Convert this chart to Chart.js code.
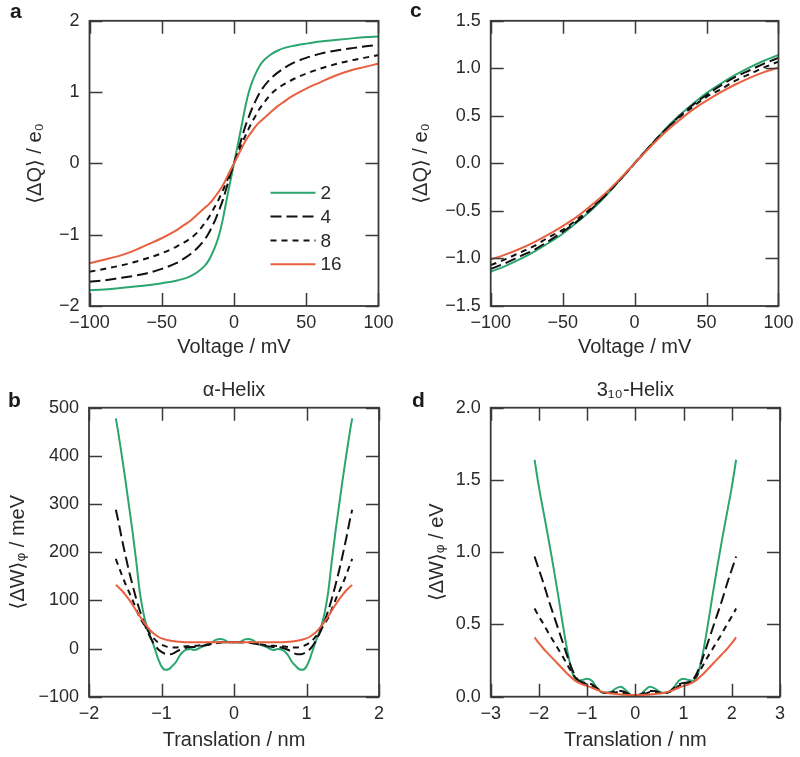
<!DOCTYPE html>
<html>
<head>
<meta charset="utf-8">
<title>Gating charge and translation energy</title>
<script src="https://cdn.jsdelivr.net/npm/chart.js@4.4.1/dist/chart.umd.min.js"></script>
<style>
  html, body { margin: 0; padding: 0; background: #fff; }
  #figure { position: relative; width: 800px; height: 757px; }
  #figure canvas { position: absolute; }
</style>
</head>
<body>
<div id="figure">
  <canvas id="panelA" width="400" height="370" style="left:0;top:0"></canvas>
  <canvas id="panelC" width="400" height="370" style="left:400px;top:0"></canvas>
  <canvas id="panelB" width="400" height="387" style="left:0;top:370px"></canvas>
  <canvas id="panelD" width="400" height="387" style="left:400px;top:370px"></canvas>
</div>
<script>
// ---- data ----
const seriesLabels = ['2', '4', '8', '16'];

// a: <dQ> vs voltage
const voltageA = [-100, -90, -80, -70, -60, -50, -40, -35, -30, -25, -20, -17.5, -15, -12.5, -10, -7.5, -5, -2.5, 0,
                  2.5, 5, 7.5, 10, 12.5, 15, 17.5, 20, 25, 30, 35, 40, 50, 60, 70, 80, 90, 100];
const chargeA2 = [-1.78, -1.77, -1.75, -1.73, -1.71, -1.68, -1.645, -1.62, -1.58, -1.52, -1.43, -1.36, -1.26, -1.14, -0.98, -0.76, -0.50, -0.25, 0,
                  0.25, 0.50, 0.76, 0.98, 1.14, 1.26, 1.36, 1.43, 1.52, 1.58, 1.62, 1.645, 1.68, 1.71, 1.73, 1.75, 1.77, 1.78];
const chargeA4 = [-1.66, -1.64, -1.61, -1.58, -1.54, -1.48, -1.40, -1.34, -1.27, -1.18, -1.06, -0.98, -0.88, -0.77, -0.64, -0.50, -0.33, -0.16, 0,
                  0.16, 0.33, 0.50, 0.64, 0.77, 0.88, 0.98, 1.06, 1.18, 1.27, 1.34, 1.40, 1.48, 1.54, 1.58, 1.61, 1.64, 1.66];
const chargeA8 = [-1.52, -1.48, -1.44, -1.39, -1.33, -1.26, -1.17, -1.115, -1.05, -0.96, -0.83, -0.76, -0.67, -0.58, -0.48, -0.37, -0.25, -0.12, 0,
                  0.12, 0.25, 0.37, 0.48, 0.58, 0.67, 0.76, 0.83, 0.96, 1.05, 1.115, 1.17, 1.26, 1.33, 1.39, 1.44, 1.48, 1.52];
const chargeA16 = [-1.40, -1.35, -1.30, -1.23, -1.14, -1.05, -0.94, -0.87, -0.80, -0.71, -0.62, -0.575, -0.52, -0.45, -0.38, -0.30, -0.20, -0.10, 0,
                   0.10, 0.20, 0.30, 0.38, 0.45, 0.52, 0.575, 0.62, 0.71, 0.80, 0.87, 0.94, 1.05, 1.14, 1.23, 1.30, 1.35, 1.40];

// c: <dQ> vs voltage
const voltageC = [-100, -90, -80, -70, -60, -50, -40, -30, -20, -10, 0, 10, 20, 30, 40, 50, 60, 70, 80, 90, 100];
const chargeC2 = [-1.14, -1.08, -1.01, -0.93, -0.84, -0.74, -0.62, -0.49, -0.34, -0.17, 0,
                  0.17, 0.34, 0.49, 0.62, 0.74, 0.84, 0.93, 1.01, 1.08, 1.14];
const chargeC4 = [-1.11, -1.05, -0.98, -0.91, -0.82, -0.72, -0.61, -0.48, -0.33, -0.17, 0,
                  0.17, 0.33, 0.48, 0.61, 0.72, 0.82, 0.91, 0.98, 1.05, 1.11];
const chargeC8 = [-1.07, -1.01, -0.94, -0.87, -0.78, -0.70, -0.59, -0.47, -0.33, -0.17, 0,
                  0.17, 0.33, 0.47, 0.59, 0.70, 0.78, 0.87, 0.94, 1.01, 1.07];
const chargeC16 = [-1.01, -0.96, -0.90, -0.83, -0.75, -0.66, -0.56, -0.44, -0.31, -0.16, 0,
                   0.16, 0.31, 0.44, 0.56, 0.66, 0.75, 0.83, 0.90, 0.96, 1.01];

// b: alpha-helix, <dW> (meV) vs translation (nm)
const transB = [-1.63, -1.6, -1.55, -1.5, -1.45, -1.4, -1.35, -1.3, -1.25, -1.2, -1.15, -1.1, -1.05, -1,
                -0.95, -0.9, -0.85, -0.8, -0.75, -0.7, -0.65, -0.6, -0.55, -0.5, -0.45, -0.4, -0.35, -0.3,
                -0.25, -0.2, -0.15, -0.1, -0.05, 0,
                0.05, 0.1, 0.15, 0.2, 0.25, 0.3, 0.35, 0.4, 0.45, 0.5, 0.55, 0.6, 0.65, 0.7, 0.75, 0.8,
                0.85, 0.9, 0.95, 1, 1.05, 1.1, 1.15, 1.2, 1.25, 1.3, 1.35, 1.4, 1.45, 1.5, 1.55, 1.6, 1.63];
const energyB2 = [478, 452, 403, 352, 298, 243, 183, 118, 74, 44, 24, 3, -20, -37,
                  -44, -43, -36, -28, -15, -6, -2, -1, -3, -1, 3, 6, 8, 13,
                  18, 20, 19, 15, 13, 13,
                  13, 15, 19, 20, 18, 13, 8, 6, 3, -1, -3, -1, -2, -6, -15, -28,
                  -36, -43, -44, -37, -20, 3, 24, 44, 74, 118, 183, 243, 298, 352, 403, 452, 478];
const energyB4 = [288, 268, 230, 195, 162, 132, 104, 79, 57, 38, 22, 9, -1, -7,
                  -11, -12, -11, -7, -3, 0, 2, 3, 3, 4, 5, 7, 8, 10,
                  12, 13, 13, 13, 13, 13,
                  13, 13, 13, 13, 12, 10, 8, 7, 5, 4, 3, 3, 2, 0, -3, -7,
                  -11, -12, -11, -7, -1, 9, 22, 38, 57, 79, 104, 132, 162, 195, 230, 268, 288];
const energyB8 = [186, 174, 154, 135, 118, 101, 82, 64, 52, 40, 29, 20, 13, 8,
                  5, 3, 2, 2, 3, 4, 5, 5, 6, 6, 7, 8, 9, 10,
                  11, 12, 13, 13, 13, 13,
                  13, 13, 13, 12, 11, 10, 9, 8, 7, 6, 6, 5, 5, 4, 3, 2,
                  2, 3, 5, 8, 13, 20, 29, 40, 52, 64, 82, 101, 118, 135, 154, 174, 186];
const energyB16 = [132, 128, 121, 112, 102, 91, 79, 67, 56, 46, 37, 30, 25, 21,
                   19, 17, 15.5, 14.5, 14, 13.5, 13, 13, 13, 13, 13, 13, 13, 13,
                   13, 13, 13, 13, 13, 13,
                   13, 13, 13, 13, 13, 13, 13, 13, 13, 13, 13, 13, 13, 13.5, 14, 14.5,
                   15.5, 17, 19, 21, 25, 30, 37, 46, 56, 67, 79, 91, 102, 112, 121, 128, 132];

// d: 3_10-helix, <dW> (eV) vs translation (nm)
const transD = [-2.09, -2, -1.9, -1.8, -1.7, -1.6, -1.5, -1.4, -1.3, -1.2, -1.1, -1, -0.9, -0.8, -0.7,
                -0.6, -0.5, -0.4, -0.3, -0.2, -0.1, 0,
                0.1, 0.2, 0.3, 0.4, 0.5, 0.6, 0.7, 0.8, 0.9, 1, 1.1, 1.2, 1.3, 1.4, 1.5, 1.6, 1.7,
                1.8, 1.9, 2, 2.09];
const energyD2 = [1.64, 1.45, 1.27, 1.09, 0.90, 0.70, 0.49, 0.30, 0.16, 0.11, 0.115, 0.125, 0.11, 0.065, 0.03,
                  0.025, 0.035, 0.058, 0.068, 0.045, 0.015, 0,
                  0.015, 0.045, 0.068, 0.058, 0.035, 0.025, 0.03, 0.065, 0.11, 0.125, 0.115, 0.11, 0.16, 0.30, 0.49, 0.70, 0.90,
                  1.09, 1.27, 1.45, 1.64];
const energyD4 = [0.97, 0.88, 0.78, 0.67, 0.57, 0.47, 0.37, 0.27, 0.18, 0.12, 0.10, 0.095, 0.085, 0.06, 0.035,
                  0.028, 0.03, 0.04, 0.04, 0.03, 0.015, 0.01,
                  0.015, 0.03, 0.04, 0.04, 0.03, 0.028, 0.035, 0.06, 0.085, 0.095, 0.10, 0.12, 0.18, 0.27, 0.37, 0.47, 0.57,
                  0.67, 0.78, 0.88, 0.97];
const energyD8 = [0.61, 0.555, 0.50, 0.44, 0.385, 0.33, 0.275, 0.215, 0.16, 0.115, 0.095, 0.085, 0.075, 0.05, 0.032,
                  0.025, 0.025, 0.03, 0.03, 0.02, 0.013, 0.01,
                  0.013, 0.02, 0.03, 0.03, 0.025, 0.025, 0.032, 0.05, 0.075, 0.085, 0.095, 0.115, 0.16, 0.215, 0.275, 0.33, 0.385,
                  0.44, 0.50, 0.555, 0.61];
const energyD16 = [0.41, 0.37, 0.33, 0.295, 0.26, 0.225, 0.19, 0.155, 0.125, 0.10, 0.085, 0.075, 0.062, 0.048, 0.035,
                   0.027, 0.022, 0.018, 0.015, 0.013, 0.012, 0.012,
                   0.012, 0.013, 0.015, 0.018, 0.022, 0.027, 0.035, 0.048, 0.062, 0.075, 0.085, 0.10, 0.125, 0.155, 0.19, 0.225, 0.26,
                   0.295, 0.33, 0.37, 0.41];

// ---- styling ----
const textColor = '#2a2a2a';
const axisColor = '#3a3a3a';
const lineStyles = [
    { color: '#2ba66f', dash: [] },
    { color: '#111111', dash: [11, 5] },
    { color: '#111111', dash: [6, 5] },
    { color: '#e9603f', dash: [] }
];

Chart.defaults.font.family = "'Liberation Sans', 'DejaVu Sans', sans-serif";
Chart.defaults.color = textColor;

function fmt(v, decimals) {
    const s = Math.abs(v).toFixed(decimals);
    return (v < -1e-9 ? '\u2212' : '') + s;
}

function makeDatasets(xs, seriesList) {
    return seriesList.map((ys, i) => ({
        label: seriesLabels[i],
        data: xs.map((x, k) => ({ x: x, y: ys[k] })),
        borderColor: lineStyles[i].color,
        borderDash: lineStyles[i].dash,
        borderWidth: 2,
        pointRadius: 0,
        fill: false,
        cubicInterpolationMode: 'monotone',
        order: seriesList.length - i
    }));
}

// inward ticks on all four sides plus the box
const frameTicks = {
    id: 'frameTicks',
    afterDatasetsDraw(chart) {
        const { ctx, chartArea: a, scales } = chart;
        const len = 13;
        ctx.save();
        ctx.strokeStyle = axisColor;
        ctx.lineWidth = 1.5;
        ctx.beginPath();
        scales.x.ticks.forEach(t => {
            const px = Math.round(scales.x.getPixelForValue(t.value)) + 0.5;
            ctx.moveTo(px, a.bottom); ctx.lineTo(px, a.bottom - len);
            ctx.moveTo(px, a.top); ctx.lineTo(px, a.top + len);
        });
        scales.y.ticks.forEach(t => {
            const py = Math.round(scales.y.getPixelForValue(t.value)) + 0.5;
            ctx.moveTo(a.left, py); ctx.lineTo(a.left + len, py);
            ctx.moveTo(a.right, py); ctx.lineTo(a.right - len, py);
        });
        ctx.stroke();
        ctx.lineWidth = 1.8;
        ctx.strokeRect(a.left, a.top, a.right - a.left, a.bottom - a.top);
        ctx.restore();
    }
};

// bold panel letter in the corner
const panelLetter = {
    id: 'panelLetter',
    afterDraw(chart, args, opts) {
        if (!opts.text) return;
        const ctx = chart.ctx;
        ctx.save();
        ctx.font = "bold 21px 'Liberation Sans', 'DejaVu Sans', sans-serif";
        ctx.fillStyle = '#1a1a1a';
        ctx.textBaseline = 'alphabetic';
        ctx.fillText(opts.text, opts.x, opts.y);
        ctx.restore();
    }
};
Chart.register(frameTicks, panelLetter);

// legend inside panel a
const insideLegend = {
    id: 'insideLegend',
    afterDatasetsDraw(chart) {
        const { ctx, chartArea: a } = chart;
        const x0 = a.left + 181, y0 = a.top + 172, gap = 23.8;
        ctx.save();
        ctx.font = "19px 'Liberation Sans', 'DejaVu Sans', sans-serif";
        ctx.textBaseline = 'middle';
        chart.data.datasets.forEach((ds, i) => {
            const y = y0 + i * gap;
            ctx.strokeStyle = ds.borderColor;
            ctx.lineWidth = ds.borderWidth;
            ctx.setLineDash(ds.borderDash);
            ctx.beginPath();
            ctx.moveTo(x0, y); ctx.lineTo(x0 + 45, y);
            ctx.stroke();
            ctx.setLineDash([]);
            ctx.fillStyle = textColor;
            ctx.fillText(ds.label, x0 + 50, y + 1);
        });
        ctx.restore();
    }
};

function scaleOptions(o) {
    return {
        type: 'linear',
        min: o.min,
        max: o.max,
        grid: { display: false, drawTicks: false },
        border: { display: false },
        ticks: {
            stepSize: o.step,
            padding: o.tickPad,
            autoSkip: false,
            maxRotation: 0,
            font: { size: 18 },
            color: textColor,
            callback: v => fmt(v, o.decimals)
        },
        title: {
            display: true,
            text: o.title,
            font: { size: 20 },
            color: textColor,
            padding: o.titlePad
        },
        afterFit: s => {
            if (s.isHorizontal()) s.height = o.size;
            else s.width = o.size;
        }
    };
}

function makeChart(id, cfg) {
    return new Chart(document.getElementById(id), {
        type: 'line',
        data: { datasets: makeDatasets(cfg.xs, cfg.series) },
        options: {
            responsive: false,
            animation: false,
            layout: { padding: cfg.padding },
            scales: { x: scaleOptions(cfg.x), y: scaleOptions(cfg.y) },
            plugins: {
                legend: { display: false },
                tooltip: { enabled: false },
                title: cfg.title ? {
                    display: true,
                    text: cfg.title,
                    fullSize: false,
                    color: textColor,
                    font: { size: 20, weight: 'normal' },
                    padding: { top: 8, bottom: 5.7 }
                } : { display: false },
                panelLetter: cfg.letter
            }
        },
        plugins: cfg.extra || []
    });
}

makeChart('panelA', {
    xs: voltageA,
    series: [chargeA2, chargeA4, chargeA8, chargeA16],
    padding: { top: 16, right: 21, bottom: 0, left: 0 },
    x: { min: -100, max: 100, step: 50, decimals: 0, tickPad: 6.5, size: 64,
         title: 'Voltage / mV', titlePad: { top: 0, bottom: 10.5 } },
    y: { min: -2, max: 2, step: 1, decimals: 0, tickPad: 10, size: 89.5,
         title: '\u27e8\u0394Q\u27e9 / e\u2080', titlePad: { top: 23, bottom: 0 } },
    letter: { text: 'a', x: 10, y: 18 },
    extra: [insideLegend]
});

makeChart('panelC', {
    xs: voltageC,
    series: [chargeC2, chargeC4, chargeC8, chargeC16],
    padding: { top: 16, right: 20, bottom: 0, left: 0 },
    x: { min: -100, max: 100, step: 50, decimals: 0, tickPad: 6.5, size: 64,
         title: 'Voltage / mV', titlePad: { top: 0, bottom: 10.5 } },
    y: { min: -1.5, max: 1.5, step: 0.5, decimals: 1, tickPad: 10, size: 90.7,
         title: '\u27e8\u0394Q\u27e9 / e\u2080', titlePad: { top: 9, bottom: 0 } },
    letter: { text: 'c', x: 10, y: 17 }
});

makeChart('panelB', {
    xs: transB,
    series: [energyB2, energyB4, energyB8, energyB16],
    padding: { top: 0, right: 21, bottom: 0, left: 0 },
    title: '\u03b1-Helix',
    x: { min: -2, max: 2, step: 1, decimals: 0, tickPad: 6.5, size: 60.3,
         title: 'Translation / nm', titlePad: { top: 0, bottom: 5 } },
    y: { min: -100, max: 500, step: 100, decimals: 0, tickPad: 10, size: 89,
         title: '\u27e8\u0394W\u27e9\u1d69 / meV', titlePad: { top: 6, bottom: 0 } },
    letter: { text: 'b', x: 8, y: 37 }
});

makeChart('panelD', {
    xs: transD,
    series: [energyD2, energyD4, energyD8, energyD16],
    padding: { top: 0, right: 20, bottom: 0, left: 0 },
    title: '3\u2081\u2080-Helix',
    x: { min: -3, max: 3, step: 1, decimals: 0, tickPad: 6.5, size: 60.3,
         title: 'Translation / nm', titlePad: { top: 0, bottom: 5 } },
    y: { min: 0, max: 2, step: 0.5, decimals: 1, tickPad: 10, size: 90.7,
         title: '\u27e8\u0394W\u27e9\u1d69 / eV', titlePad: { top: 25, bottom: 0 } },
    letter: { text: 'd', x: 12, y: 37 }
});
</script>
</body>
</html>
